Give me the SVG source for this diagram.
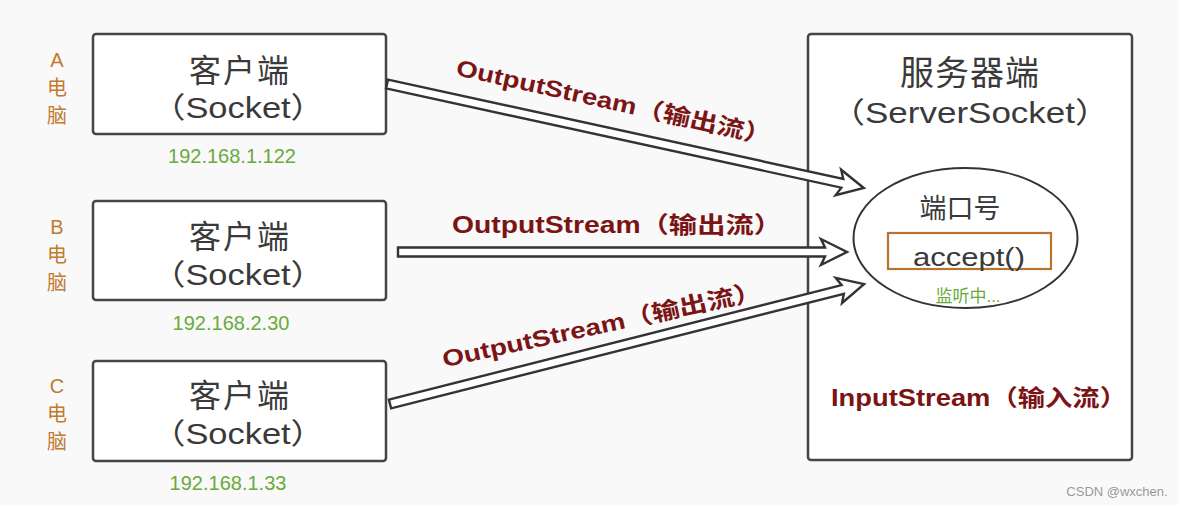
<svg xmlns="http://www.w3.org/2000/svg" width="1179" height="505" viewBox="0 0 1179 505">
<style>
.box{fill:#fff;stroke:#454545;stroke-width:2.5}
.t{font-family:"Liberation Sans","Noto Sans CJK SC",sans-serif;text-anchor:middle}
.main{font-size:29px;fill:#3a3a3a}
.cn{font-size:32px;fill:#3a3a3a;letter-spacing:2px}
.pc{font-size:20px;fill:#c27a30}
.ip{font-size:20px;fill:#6aaa3c}
.lbl{font-size:23px;font-weight:bold;fill:#7b1414}
.arr{fill:#fff;stroke:#333;stroke-width:2.4;stroke-linejoin:miter}
</style>
<rect width="1179" height="505" fill="#f9f9f9"/>
<g id="clientA">
<rect class="box" x="93" y="34" width="293" height="100" rx="3"/>
<text class="t cn" x="240" y="82">客户端</text>
<text class="t main" x="238" y="118" textLength="174" lengthAdjust="spacingAndGlyphs">（Socket）</text>
<text class="t pc" x="57" y="67">A</text>
<text class="t pc" x="57" y="95">电</text>
<text class="t pc" x="57" y="123">脑</text>
<text class="t ip" x="232" y="163">192.168.1.122</text>
</g>
<g id="clientB">
<rect class="box" x="93" y="201" width="293" height="99" rx="3"/>
<text class="t cn" x="240" y="248">客户端</text>
<text class="t main" x="238" y="285" textLength="174" lengthAdjust="spacingAndGlyphs">（Socket）</text>
<text class="t pc" x="57" y="234">B</text>
<text class="t pc" x="57" y="262">电</text>
<text class="t pc" x="57" y="290">脑</text>
<text class="t ip" x="231" y="330">192.168.2.30</text>
</g>
<g id="clientC">
<rect class="box" x="93" y="361" width="293" height="100" rx="3"/>
<text class="t cn" x="240" y="407">客户端</text>
<text class="t main" x="238" y="444" textLength="174" lengthAdjust="spacingAndGlyphs">（Socket）</text>
<text class="t pc" x="57" y="393">C</text>
<text class="t pc" x="57" y="421">电</text>
<text class="t pc" x="57" y="449">脑</text>
<text class="t ip" x="228" y="490">192.168.1.33</text>
</g>
<g id="server">
<rect class="box" x="808" y="34" width="324" height="426" rx="3"/>
<text class="t" x="970" y="85" font-size="34" fill="#3a3a3a" letter-spacing="1">服务器端</text>
<text class="t main" x="970" y="123" textLength="280" lengthAdjust="spacingAndGlyphs">（ServerSocket）</text>
<ellipse cx="965.5" cy="238" rx="112" ry="70" fill="#fff" stroke="#333" stroke-width="2"/>
<text class="t" x="960" y="218" font-size="27" fill="#3a3a3a">端口号</text>
<rect x="888" y="233" width="163" height="36" fill="none" stroke="#b8742e" stroke-width="2.2"/>
<text class="t" x="969" y="266" font-size="25" fill="#3a3a3a" textLength="112" lengthAdjust="spacingAndGlyphs">accept()</text>
<text class="t" x="968" y="302" font-size="17" fill="#6aaa3c">监听中...</text>
<text class="t lbl" x="979" y="406" textLength="296" lengthAdjust="spacingAndGlyphs">InputStream（输入流）</text>
</g>
<g id="connectors">
<path class="arr" transform="translate(387,84) rotate(12.3)" d="M0,-4.5 L466,-4.5 L462,-13 L488,0 L462,13 L466,4.5 L0,4.5 Z"/>
<path class="arr" transform="translate(398,252)" d="M0,-4.5 L427,-4.5 L423,-13 L449,0 L423,13 L427,4.5 L0,4.5 Z"/>
<path class="arr" transform="translate(390,404) rotate(-14.2)" d="M0,-4.5 L467,-4.5 L463,-13 L489,0 L463,13 L467,4.5 L0,4.5 Z"/>
<text class="t lbl" transform="translate(614,102) rotate(12.5)" y="8" textLength="322" lengthAdjust="spacingAndGlyphs">OutputStream（输出流）</text>
<text class="t lbl" x="617" y="233" textLength="330" lengthAdjust="spacingAndGlyphs">OutputStream（输出流）</text>
<text class="t lbl" transform="translate(602,325) rotate(-12.2)" y="8" textLength="326" lengthAdjust="spacingAndGlyphs">OutputStream（输出流）</text>
</g>
<text class="t" x="1117" y="496" font-size="13" fill="#999">CSDN @wxchen.</text>
</svg>
